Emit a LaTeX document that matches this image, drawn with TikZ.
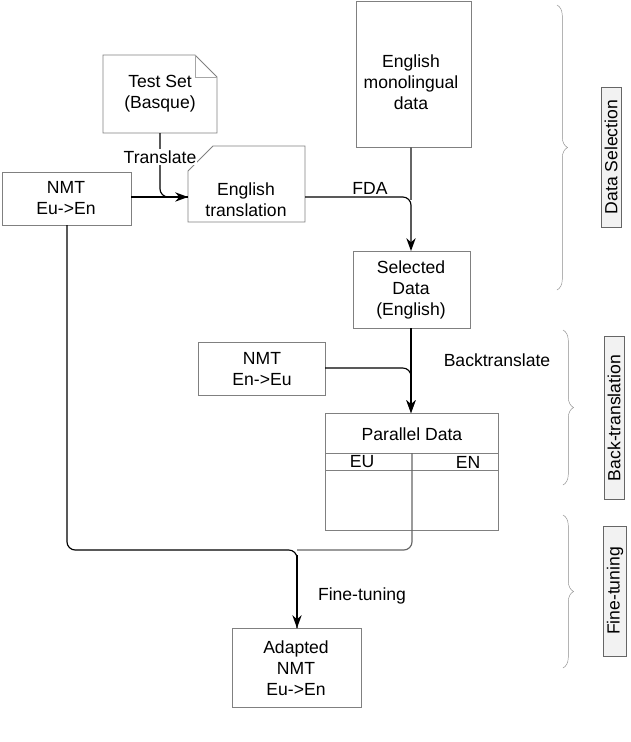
\documentclass[tikz,border=0pt]{standalone}
\usepackage{fontspec}
\setmainfont{Liberation Sans}
\usetikzlibrary{decorations.pathreplacing,arrows.meta}
\begin{document}
\begin{tikzpicture}[x=0.03cm,y=-0.03cm,
  txt/.style={font=\fontsize{15}{18}\selectfont,align=center},
  box/.style={draw=black!50,thick},
  conn/.style={semithick,line width=1pt,rounded corners=7},
  arr/.style={conn,-{Stealth[length=11pt,width=8pt]}},
  brc/.style={draw=black!45,decorate,decoration={brace,amplitude=9pt}},
  tag/.style={draw=black!60,fill=black!5,rotate=90,txt,inner sep=3pt}]
\useasboundingbox (0,0) rectangle (630,742);
% boxes
\draw[box] (103,55) -- (195,55) -- (217,77) -- (217,133) -- (103,133) -- cycle;
\draw[box,draw=black!35] (195,55) -- (195,77) -- (217,77);
\node[txt] (test) at (160,94) {Test Set\\(Basque)};
\coordinate (testb) at (160,133);
\draw[box] (213,146) -- (305,146) -- (305,222) -- (188,222) -- (188,171) -- cycle;
\node[txt] (entr) at (246,200) {English\\translation};
\coordinate (entrl) at (188,197);
\coordinate (entrr) at (305,197);
\draw[box] (2,172) rectangle (131,225);
\node[txt] (nmt1) at (66,198) {NMT\\Eu->En};
\coordinate (nmt1r) at (131,197);
\coordinate (nmt1b) at (67,225);
\draw[box] (356,1) rectangle (471,147);
\node[txt] (mono) at (411,82) {English\\monolingual\\data};
\coordinate (monob) at (411,147);
\draw[box] (353,251) rectangle (470,328);
\node[txt] (sel) at (411,290) {Selected\\Data\\(English)};
\coordinate (selt) at (411,251);
\coordinate (selb) at (411,328);
\draw[box] (198,342) rectangle (325,395);
\node[txt] (nmt2) at (262,369) {NMT\\En->Eu};
\coordinate (nmt2r) at (325,368);
\draw[box] (325,413) rectangle (498,530);
\draw[box] (325,453) -- (498,453) (325,470) -- (498,470);
\node[txt] (par) at (412,434) {Parallel Data};
\node[txt] at (362,462) {EU};
\node[txt] at (468,462) {EN};
\coordinate (part) at (411,413);
\coordinate (parc) at (412,453);
\draw[box] (232,628) rectangle (361,707);
\node[txt] (ad) at (296,668) {Adapted\\NMT\\Eu->En};
\coordinate (adt) at (297,628);
% connectors
\draw[arr] (testb) -- (160,197) -- (entrl);
\node[txt,fill=white,inner sep=1pt] at (160,157) {Translate};
\draw[conn] (nmt1r) -- (entrl);
\draw[arr] (entrr) -- (411,197) -- (selt);
\draw[conn,draw=black!60] (monob) -- (411,200);
\node[txt] at (370,188) {FDA};
\draw[arr] (selb) -- (part);
\draw[arr] (nmt2r) -- (411,368) -- (part);
\node[txt] at (497,360) {Backtranslate};
\draw[conn] (nmt1b) -- (67,550) -- (297,550) -- (adt);
\draw[conn,-{Stealth[length=11pt,width=8pt]}] (297,555) -- (adt);
\draw[conn,draw=black!60] (parc) -- (412,550) -- (297,550);
\node[txt] at (362,596) {Fine-tuning};
% braces
\draw[brc] (557,5) -- (557,290);
\draw[brc] (563,330) -- (563,485);
\draw[brc] (563,515) -- (563,668);
\node[tag,minimum width=4.2cm] at (611,157) {Data Selection};
\node[tag,minimum width=4.9cm] at (614,418) {Back-translation};
\node[tag,minimum width=3.9cm] at (615,591) {Fine-tuning};
\end{tikzpicture}
\end{document}
